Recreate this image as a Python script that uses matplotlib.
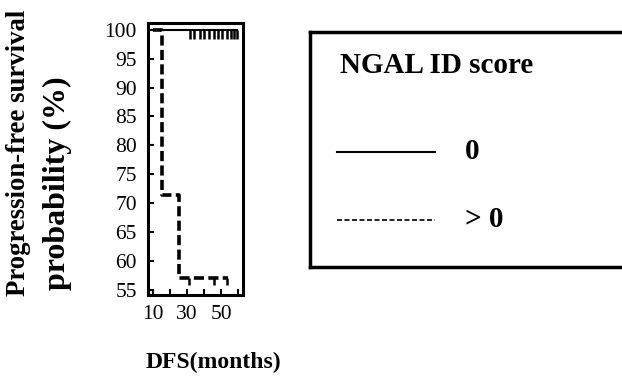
import matplotlib
matplotlib.use('Agg')
import matplotlib.pyplot as plt
from matplotlib.lines import Line2D

plt.rcParams['font.family'] = ['Liberation Serif', 'DejaVu Serif']

# Kaplan-Meier steps
t_zero = [10, 59.5]
s_zero = [100, 100]
t_pos = [10, 15, 25, 54]
s_pos = [100, 71.4, 57.1, 57.1]

# censored points
cens_zero = [31.4, 33.8, 37.4, 40.2, 42.7, 45.7, 48.1, 50.7, 53.3, 55.7, 57.6, 59.2]
cens_pos = [31.3, 45.7, 53.7]

yticks = [55, 60, 65, 70, 75, 80, 85, 90, 95, 100]
xticks = [10, 20, 30, 40, 50, 60]
xlabels = ['10', '', '30', '', '50', '']

fig = plt.figure(figsize=(6.22, 3.78), dpi=100)
ax = fig.add_axes([0.238, 0.2196, 0.153, 0.7206])

ax.step(t_zero, s_zero, where='post', color='black', lw=1.5)
ax.step(t_pos, s_pos, where='post', color='black', lw=2.6, linestyle=(0, (2.8, 1.2)))
ax.vlines(cens_zero, 98.3, 100, color='black', lw=1.8)
ax.vlines(cens_pos, 55.9, 57.1, color='black', lw=1.8)

ax.set_xlim(7, 63)
ax.set_ylim(54.2, 101.2)
ax.set_yticks(yticks)
ax.set_xticks(xticks)
ax.set_xticklabels(xlabels)
ax.tick_params(direction='in', length=4, width=1.5, labelsize=15.5)
ax.tick_params(axis='y', pad=8)
ax.tick_params(axis='x', pad=7)
for s in ax.spines.values():
    s.set_linewidth(2.2)

# y label, two rotated lines
fig.text(0.029, 0.216, 'Progression-free survival', rotation=90, ha='center', va='bottom',
         fontsize=19.3, fontweight='bold')
fig.text(0.092, 0.233, 'probability (%)', rotation=90, ha='center', va='bottom',
         fontsize=23, fontweight='bold')
fig.text(0.343, 0.042, 'DFS(months)', ha='center', va='center', fontsize=17, fontweight='bold')

# legend box
lg = fig.add_axes([0.498, 0.294, 0.6, 0.621])
lg.set_xticks([])
lg.set_yticks([])
for s in lg.spines.values():
    s.set_linewidth(2.5)
fig.text(0.547, 0.828, 'NGAL ID score', ha='left', va='center', fontsize=21, fontweight='bold')
fig.add_artist(Line2D([0.542, 0.699], [0.598, 0.598], color='black', lw=1.5))
fig.add_artist(Line2D([0.542, 0.699], [0.418, 0.418], color='black', lw=1.2, linestyle=(0, (3, 1.5))))
fig.text(0.748, 0.598, '0', ha='left', va='center', fontsize=21, fontweight='bold')
fig.text(0.748, 0.418, '> 0', ha='left', va='center', fontsize=21, fontweight='bold')

fig.savefig('out.png', dpi=100)
